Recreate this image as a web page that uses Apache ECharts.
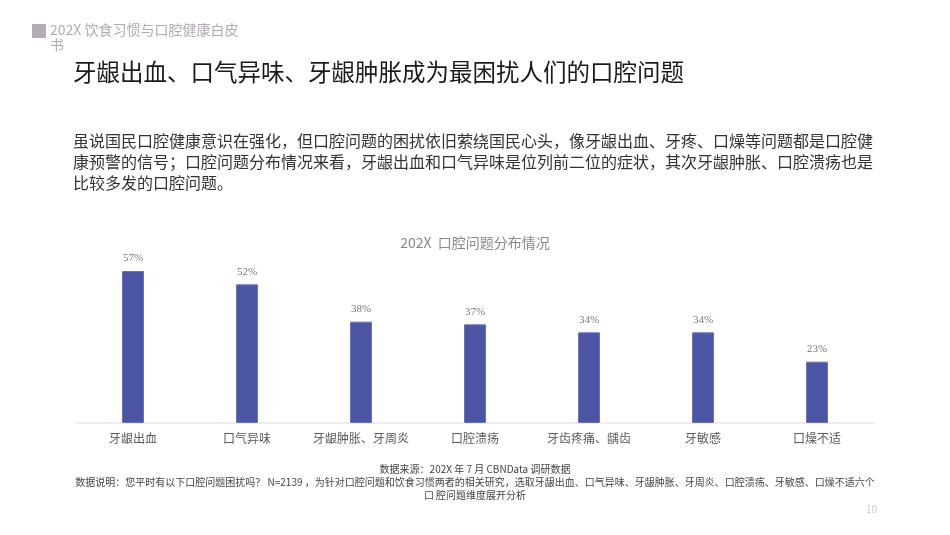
<!DOCTYPE html>
<html><head><meta charset="utf-8">
<script src="https://cdn.jsdelivr.net/npm/echarts@6/dist/echarts.min.js"></script>
<style>html,body{margin:0;padding:0;background:#fff;}#c{width:950px;height:535px;}</style>
</head><body><div id="c"></div>
<script>
const categories = ['牙龈出血','口气异味','牙龈肿胀、牙周炎','口腔溃疡','牙齿疼痛、龋齿','牙敏感','口燥不适'];
const values = [57, 52, 38, 37, 34, 34, 23];
const headerText = '202X 饮食习惯与口腔健康白皮';
const headerText2 = '书';
const titleText = '牙龈出血、口气异味、牙龈肿胀成为最困扰人们的口腔问题';
const paraLines = [
  '虽说国民口腔健康意识在强化，但口腔问题的困扰依旧萦绕国民心头，像牙龈出血、牙疼、口燥等问题都是口腔健',
  '康预警的信号；口腔问题分布情况来看，牙龈出血和口气异味是位列前二位的症状，其次牙龈肿胀、口腔溃疡也是',
  '比较多发的口腔问题。'
];
const chartTitle = '202X  口腔问题分布情况';
const footLines = [
  '数据来源：202X 年 7 月 CBNData 调研数据',
  '数据说明：您平时有以下口腔问题困扰吗？ N=2139 ，为针对口腔问题和饮食习惯两者的相关研究，选取牙龈出血、口气异味、牙龈肿胀、牙周炎、口腔溃疡、牙敏感、口燥不适六个',
  '口 腔问题维度展开分析'
];
const pageNo = '10';

const font = '"Noto Sans CJK SC", "Noto Sans", sans-serif';
const chart = echarts.init(document.getElementById('c'));
const graphics = [
  {type:'rect', left:32, top:24, shape:{width:14, height:14}, style:{fill:'#b3aeb3'}},
  {type:'text', left:50, top:23, style:{text:headerText, fill:'#b0abb0', font:'14px ' + font}},
  {type:'text', left:50, top:38, style:{text:headerText2, fill:'#b0abb0', font:'14px ' + font}},
  {type:'text', left:73, top:60, style:{text:titleText, fill:'#1a1a1a', font:'23.5px ' + font}},
];
paraLines.forEach((t,i)=>graphics.push({type:'text', left:73, top:133 + i*21, style:{text:t, fill:'#333', font:'16px ' + font}}));
footLines.forEach((t,i)=>graphics.push({type:'text', left:'center', top:464 + i*13, style:{text:t, fill:'#444', font:'10px ' + font}}));
graphics.push({type:'text', left:866, top:504, style:{text:pageNo, fill:'#ccc', font:'10px ' + font}});

chart.setOption({
  animation:false,
  title:{text:chartTitle, left:'center', top:231, textStyle:{fontSize:14, fontWeight:'normal', color:'#888', fontFamily:font}},
  grid:{left:76, right:76, top:263, bottom:112, containLabel:false},
  xAxis:{type:'category', data:categories,
    axisLine:{lineStyle:{color:'#eeeeee', width:2}}, axisTick:{show:false},
    axisLabel:{color:'#595959', fontSize:12, fontFamily:font, margin:9, interval:0}},
  yAxis:{type:'value', min:0, max:60, show:false, splitLine:{show:false}},
  series:[{type:'bar', data:values, barWidth:22,
    itemStyle:{color:'#4b55a3', borderColor:'#6a73b8', borderWidth:1},
    label:{show:true, position:'top', distance:7, formatter:'{c}%', color:'#777', fontSize:11, fontFamily:'"Liberation Serif", serif'}}],
  graphic:graphics
});
</script></body></html>
